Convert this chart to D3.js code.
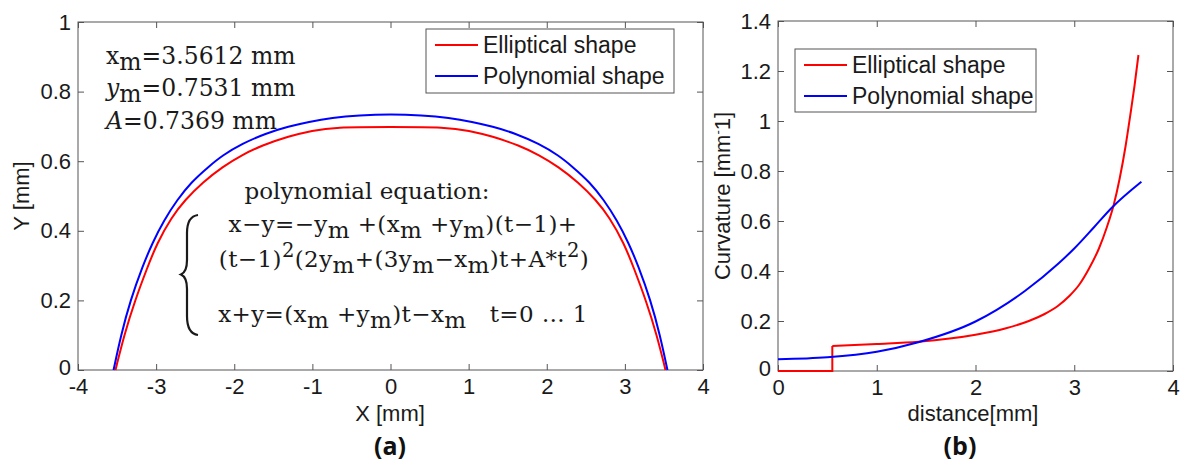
<!DOCTYPE html>
<html>
<head>
  <meta charset="utf-8">
  <title>Elliptical vs polynomial shape</title>
  <script src="https://d3js.org/d3.v7.min.js"></script>
  <style>
    body { margin: 0; background: #fff; }
    svg { display: block; }
  </style>
</head>
<body>
  <div id="chart"></div>

  <script>
    // Series
    const seriesNames = ['Elliptical shape', 'Polynomial shape'];
    const seriesColors = ['#ff0000', '#0000ff'];

    // (a) profile, [X mm, Y mm]
    const ellipticalProfile = [
      [-3.52, 0], [-3.41, 0.1], [-3.27, 0.2], [-3.12, 0.29], [-2.99, 0.364],
      [-2.8, 0.44], [-2.63, 0.489], [-2.4, 0.54], [-2.15, 0.584], [-1.9, 0.618],
      [-1.65, 0.645], [-1.3, 0.672], [-1.0, 0.688], [-0.72, 0.698], [0, 0.698],
      [0.72, 0.698], [1.0, 0.688], [1.3, 0.672], [1.65, 0.645], [1.9, 0.618],
      [2.15, 0.584], [2.4, 0.54], [2.63, 0.489], [2.8, 0.44], [2.99, 0.364],
      [3.12, 0.29], [3.27, 0.2], [3.41, 0.1], [3.52, 0]
    ];
    const polynomialProfile = [
      [-3.545, 0], [-3.45, 0.1], [-3.33, 0.2], [-3.17, 0.3], [-3.05, 0.364],
      [-2.9, 0.43], [-2.73, 0.489], [-2.55, 0.54], [-2.33, 0.584], [-2.15, 0.617],
      [-1.9, 0.65], [-1.6, 0.68], [-1.3, 0.7], [-1.05, 0.713], [-0.75, 0.725],
      [-0.4, 0.732], [0, 0.735], [0.4, 0.732], [0.75, 0.725], [1.05, 0.713],
      [1.3, 0.7], [1.6, 0.68], [1.9, 0.65], [2.15, 0.617], [2.33, 0.584],
      [2.55, 0.54], [2.73, 0.489], [2.9, 0.43], [3.05, 0.364], [3.17, 0.3],
      [3.33, 0.2], [3.45, 0.1], [3.545, 0]
    ];

    // (b) curvature along the profile, [distance mm, curvature 1/mm]
    const ellipticalCurvature = [
      [0, 0], [0.55, 0], [0.55, 0.1], [1.0, 0.108], [1.42, 0.117], [2.0, 0.145],
      [2.3, 0.17], [2.54, 0.2], [2.7, 0.228], [2.84, 0.262], [2.95, 0.3],
      [3.05, 0.345], [3.15, 0.41], [3.25, 0.49], [3.33, 0.575], [3.4, 0.665],
      [3.46, 0.77], [3.52, 0.9], [3.57, 1.03], [3.61, 1.14], [3.65, 1.264]
    ];
    const polynomialCurvature = [
      [0, 0.047], [0.5, 0.055], [1.0, 0.077], [1.42, 0.115], [2.0, 0.198],
      [2.5, 0.32], [2.84, 0.43], [3.0, 0.49], [3.2, 0.575], [3.38, 0.653],
      [3.68, 0.757]
    ];

    // Ticks
    const xTicksA = [-4, -3, -2, -1, 0, 1, 2, 3, 4];
    const yTicksA = [0, 0.2, 0.4, 0.6, 0.8, 1];
    const xTicksB = [0, 1, 2, 3, 4];
    const yTicksB = [0, 0.2, 0.4, 0.6, 0.8, 1, 1.2, 1.4];

    // Text
    const paramLines = ['x_m=3.5612 mm', '%y_m=0.7531 mm', '%A=0.7369 mm'];
    const equationLines = [
      'polynomial equation:',
      'x\u2212y=\u2212y_m +(x_m +y_m)(t\u22121)+',
      '(t\u22121)^2(2y_m+(3y_m\u2212x_m)t+A*t^2)',
      'x+y=(x_m +y_m)t\u2212x_m\u00a0\u00a0\u00a0t=0 \u2026 1'
    ];

    const width = 1180;
    const height = 468;
    const axisColor = '#555';
    const textColor = '#1a1a1a';
    const sans = '"Liberation Sans", Arial, sans-serif';
    const serif = '"DejaVu Serif", serif';

    const svg = d3.select('#chart')
      .append('svg')
      .attr('width', width)
      .attr('height', height);

    svg.append('rect').attr('width', width).attr('height', height).attr('fill', '#fff');

    const fmt = d => String(d);

    function styleAxis(g, showText) {
      g.select('.domain').remove();
      g.selectAll('.tick line').attr('stroke', axisColor);
      g.selectAll('.tick text')
        .attr('fill', textColor)
        .style('font-family', sans)
        .style('font-size', '22px')
        .style('display', showText ? null : 'none');
    }

    function panel(box, xDomain, yDomain, xTicks, yTicks) {
      const x = d3.scaleLinear().domain(xDomain).range([box.left, box.right]);
      const y = d3.scaleLinear().domain(yDomain).range([box.bottom, box.top]);

      svg.append('g')
        .attr('transform', `translate(0,${box.bottom})`)
        .call(d3.axisBottom(x).tickValues(xTicks).tickSizeInner(-6).tickSizeOuter(0).tickPadding(8).tickFormat(fmt))
        .call(g => styleAxis(g, true));
      svg.append('g')
        .attr('transform', `translate(0,${box.top})`)
        .call(d3.axisTop(x).tickValues(xTicks).tickSizeInner(-6).tickSizeOuter(0))
        .call(g => styleAxis(g, false));
      svg.append('g')
        .attr('transform', `translate(${box.left},0)`)
        .call(d3.axisLeft(y).tickValues(yTicks).tickSizeInner(-6).tickSizeOuter(0).tickPadding(7).tickFormat(fmt))
        .call(g => styleAxis(g, true))
        .call(g => g.selectAll('.tick text').filter(d => d === 0).attr('dy', '0.2em'));
      svg.append('g')
        .attr('transform', `translate(${box.right},0)`)
        .call(d3.axisRight(y).tickValues(yTicks).tickSizeInner(-6).tickSizeOuter(0))
        .call(g => styleAxis(g, false));

      svg.append('rect')
        .attr('x', box.left).attr('y', box.top)
        .attr('width', box.right - box.left).attr('height', box.bottom - box.top)
        .attr('fill', 'none').attr('stroke', axisColor).attr('stroke-width', 1);

      return { x, y };
    }

    function drawLine(sc, data, color, curve) {
      const line = d3.line()
        .x(d => sc.x(d[0]))
        .y(d => sc.y(d[1]))
        .curve(curve || d3.curveBasis);
      svg.append('path')
        .datum(data)
        .attr('d', line)
        .attr('fill', 'none')
        .attr('stroke', color)
        .attr('stroke-width', 2);
    }

    function legend(box) {
      const g = svg.append('g');
      g.append('rect')
        .attr('x', box.x).attr('y', box.y).attr('width', box.w).attr('height', box.h)
        .attr('fill', '#fff').attr('stroke', axisColor).attr('stroke-width', 1);
      seriesNames.forEach((name, i) => {
        const ly = box.y + 16 + i * 31;
        g.append('line')
          .attr('x1', box.x + 9).attr('x2', box.x + 52)
          .attr('y1', ly).attr('y2', ly)
          .attr('stroke', seriesColors[i]).attr('stroke-width', 2);
        g.append('text')
          .attr('x', box.x + 57).attr('y', ly).attr('dy', '0.36em')
          .attr('fill', textColor)
          .style('font-family', sans).style('font-size', '23px')
          .text(name);
      });
    }

    // mini markup: _c subscript, ^c superscript, %c italic
    function rich(text, str, size) {
      const parts = str.split(/([_^%].)/).filter(s => s.length);
      let shift = 0;
      parts.forEach(p => {
        const t = text.append('tspan');
        let target = 0;
        let s = p;
        if (p[0] === '_' && p.length === 2) { target = 6; s = p[1]; }
        else if (p[0] === '^' && p.length === 2) { target = -10; s = p[1]; t.style('font-size', (size * 0.85) + 'px'); }
        else if (p[0] === '%' && p.length === 2) { s = p[1]; t.style('font-style', 'italic'); }
        if (target !== shift) t.attr('dy', target - shift);
        shift = target;
        t.text(s);
      });
    }

    // ---- panel (a)
    const a = panel({ left: 78, right: 703, top: 22, bottom: 370 }, [-4, 4], [0, 1], xTicksA, yTicksA);
    drawLine(a, ellipticalProfile, seriesColors[0]);
    drawLine(a, polynomialProfile, seriesColors[1]);
    legend({ x: 426, y: 29, w: 248, h: 64 });

    paramLines.forEach((s, i) => {
      const t = svg.append('text')
        .attr('x', 106).attr('y', 64 + i * 32.3)
        .attr('fill', textColor)
        .style('font-family', serif).style('font-size', '23.5px');
      rich(t, s, 23.5);
    });

    const eqX = [367, 403, 404, 403];
    const eqY = [199, 232, 267, 322];
    equationLines.forEach((s, i) => {
      const t = svg.append('text')
        .attr('x', eqX[i]).attr('y', eqY[i])
        .attr('text-anchor', 'middle')
        .attr('fill', textColor)
        .style('font-family', serif).style('font-size', '23px')
        .style('letter-spacing', i ? '0.4px' : null);
      rich(t, s, 23);
    });

    // curly brace in front of the system
    svg.append('path')
      .attr('d', 'M198,215 C190,216 187,222 187,233 L187,260 C187,268 185.5,272.5 181,274.5 ' +
                 'C185.5,276.5 187,281 187,289 L187,316 C187,327 190,334 198,335')
      .attr('fill', 'none').attr('stroke', textColor).attr('stroke-width', 2.2);

    svg.append('text')
      .attr('x', 390).attr('y', 421).attr('text-anchor', 'middle')
      .attr('fill', textColor).style('font-family', sans).style('font-size', '22px')
      .text('X [mm]');
    svg.append('text')
      .attr('transform', 'translate(29,196) rotate(-90)').attr('text-anchor', 'middle')
      .attr('fill', textColor).style('font-family', sans).style('font-size', '22px')
      .text('Y [mm]');
    svg.append('text')
      .attr('x', 390).attr('y', 455).attr('text-anchor', 'middle')
      .attr('fill', '#111').style('font-family', '"Open Sans", sans-serif')
      .style('font-size', '25px').style('font-weight', 'bold')
      .text('(a)');

    // ---- panel (b)
    const b = panel({ left: 778, right: 1173, top: 21, bottom: 371 }, [0, 4], [0, 1.4], xTicksB, yTicksB);
    drawLine(b, ellipticalCurvature.slice(0, 3), seriesColors[0], d3.curveLinear);
    drawLine(b, ellipticalCurvature.slice(2), seriesColors[0], d3.curveMonotoneX);
    drawLine(b, polynomialCurvature, seriesColors[1], d3.curveMonotoneX);
    legend({ x: 795, y: 49, w: 241, h: 63 });

    svg.append('text')
      .attr('x', 973).attr('y', 421).attr('text-anchor', 'middle')
      .attr('fill', textColor).style('font-family', sans).style('font-size', '22px')
      .text('distance[mm]');
    const cl = svg.append('text')
      .attr('transform', 'translate(730,196) rotate(-90)').attr('text-anchor', 'middle')
      .attr('fill', textColor).style('font-family', sans).style('font-size', '22px');
    cl.append('tspan').text('Curvature [mm');
    cl.append('tspan').attr('dy', -8).style('font-size', '13px').text('-');
    cl.append('tspan').attr('dy', 8).text('1]');
    svg.append('text')
      .attr('x', 960).attr('y', 455).attr('text-anchor', 'middle')
      .attr('fill', '#111').style('font-family', '"Open Sans", sans-serif')
      .style('font-size', '25px').style('font-weight', 'bold')
      .text('(b)');
  </script>
</body>
</html>
